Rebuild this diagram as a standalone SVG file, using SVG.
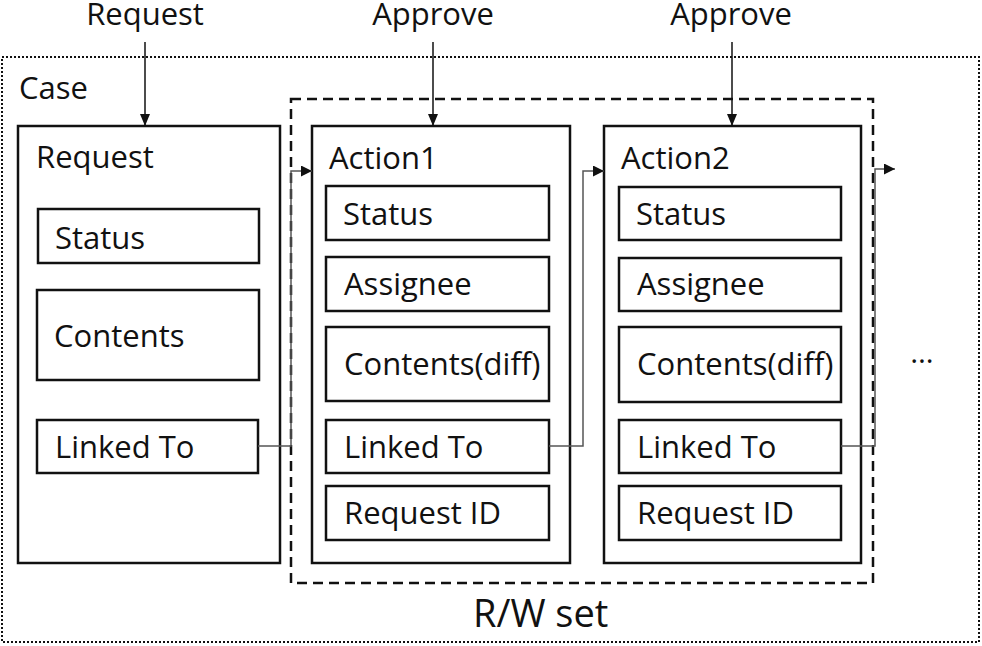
<svg xmlns="http://www.w3.org/2000/svg" width="982" height="646" viewBox="0 0 982 646">
<defs>
<style>
text{font-family:"Open Sans","Noto Sans",sans-serif;font-size:31px;fill:#111}
.box{fill:#fff;stroke:#111;stroke-width:2.5}
.con{fill:none;stroke:#555;stroke-width:1.5}
.arr{fill:none;stroke:#111;stroke-width:1.5}
</style>
<marker id="ah" viewBox="0 0 10 10" refX="10" refY="5" markerWidth="11" markerHeight="11" markerUnits="userSpaceOnUse" orient="auto">
<path d="M0,0 L10,5 L0,10 z" fill="#111"/>
</marker>
<marker id="ahv" viewBox="0 0 12 10" refX="12" refY="5" markerWidth="12" markerHeight="11" markerUnits="userSpaceOnUse" orient="auto">
<path d="M0,0 L12,5 L0,10 z" fill="#111"/>
</marker>
</defs>
<rect width="982" height="646" fill="#fff"/>
<g id="case">
<rect x="2" y="57" width="977" height="585" fill="none" stroke="#111" stroke-width="2" stroke-dasharray="2 2"/>
<text x="19" y="99">Case</text>
</g>
<g id="rwset">
<rect x="291" y="99" width="582" height="484" fill="none" stroke="#111" stroke-width="2.5" stroke-dasharray="10 6"/>
<text x="473" y="627" style="font-size:38px">R/W set</text>
</g>
<g id="request">
<rect class="box" x="18" y="126" width="262" height="437"/>
<text x="36" y="168">Request</text>
<rect class="box" x="38" y="209" width="221" height="54"/>
<text x="55" y="249">Status</text>
<rect class="box" x="37" y="290" width="222" height="90"/>
<text x="54" y="347">Contents</text>
<rect class="box" x="37" y="420" width="221" height="53"/>
<text x="55" y="458">Linked To</text>
</g>
<g id="action1">
<rect class="box" x="312" y="126" width="258" height="437"/>
<text x="329" y="169">Action1</text>
<rect class="box" x="326" y="186" width="223" height="54"/>
<text x="343" y="225">Status</text>
<rect class="box" x="326" y="257" width="223" height="54"/>
<text x="344" y="295">Assignee</text>
<rect class="box" x="326" y="327" width="223" height="74"/>
<text x="344" y="375">Contents(diff)</text>
<rect class="box" x="326" y="420" width="223" height="53"/>
<text x="344" y="458">Linked To</text>
<rect class="box" x="326" y="486" width="223" height="54"/>
<text x="344" y="524">Request ID</text>
</g>
<g id="action2">
<rect class="box" x="604" y="126" width="257" height="437"/>
<text x="621" y="169">Action2</text>
<rect class="box" x="619" y="187" width="222" height="53"/>
<text x="636" y="225">Status</text>
<rect class="box" x="619" y="258" width="222" height="53"/>
<text x="637" y="295">Assignee</text>
<rect class="box" x="619" y="327" width="222" height="75"/>
<text x="637" y="375">Contents(diff)</text>
<rect class="box" x="619" y="420" width="222" height="53"/>
<text x="637" y="458">Linked To</text>
<rect class="box" x="619" y="486" width="222" height="54"/>
<text x="637" y="524">Request ID</text>
</g>
<g id="labels">
<text x="145" y="25" text-anchor="middle">Request</text>
<text x="433" y="25" text-anchor="middle">Approve</text>
<text x="731" y="25" text-anchor="middle">Approve</text>
<text x="922" y="363" text-anchor="middle" style="font-size:30px">…</text>
</g>
<g id="connectors">
<line class="arr" x1="145" y1="42" x2="145" y2="126" marker-end="url(#ahv)"/>
<line class="arr" x1="433" y1="42" x2="433" y2="126" marker-end="url(#ahv)"/>
<line class="arr" x1="732" y1="42" x2="732" y2="126" marker-end="url(#ahv)"/>
<path class="con" d="M258,446 H291 V171 H312" marker-end="url(#ah)"/>
<path class="con" d="M549,446 H583 V171 H604" marker-end="url(#ah)"/>
<path class="con" d="M841,446 H875 V169 H895" marker-end="url(#ah)"/>
</g>
</svg>
